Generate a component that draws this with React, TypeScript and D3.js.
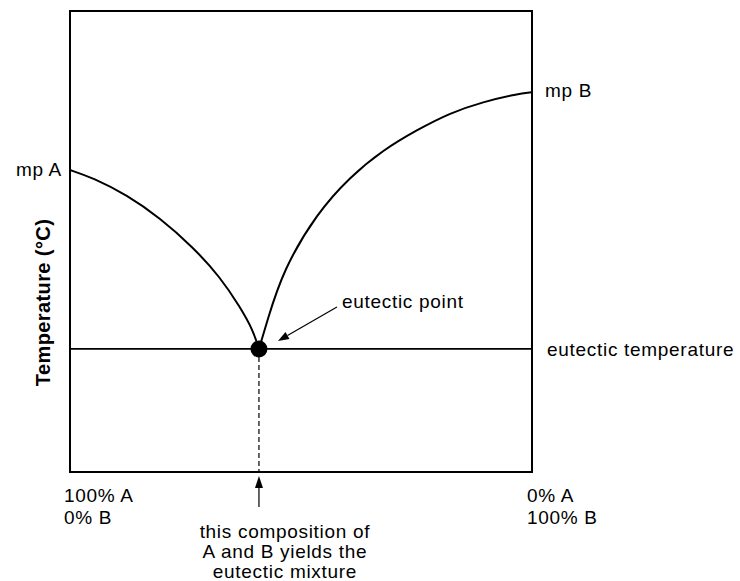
import React from 'react';
import * as d3 from 'd3';

// composition in % B (0 = pure A, 100 = pure B), temperature in relative units
const liquidusA: [number, number][] = [
  [0, 65.5], [5.0, 63.8], [12.3, 60.1], [19.5, 55.1], [26.6, 48.8],
  [32.5, 42.3], [36.8, 35.8], [39.6, 30.8], [40.9, 26.7],
];
const liquidusB: [number, number][] = [
  [40.9, 26.7], [42.6, 32.5], [46.1, 43.8], [53.5, 56.2], [60.6, 64.0],
  [67.7, 69.8], [75.1, 74.2], [82.3, 77.9], [89.4, 80.3], [96.8, 82.0], [100, 82.4],
];
const eutectic = { x: 40.9, t: 26.7 };
const meltingLabels = ['mp A', 'mp B'];
const leftTickLines = ['100% A', '0% B'];
const rightTickLines = ['0% A', '100% B'];
const noteLines = ['this composition of', 'A and B yields the', 'eutectic mixture'];

const W = 740;
const H = 581;
const margin = { left: 70, right: 208, top: 11, bottom: 109 };
const FONT = '"Liberation Sans", Arial, Helvetica, sans-serif';

export default function App() {
  const x = d3.scaleLinear().domain([0, 100]).range([margin.left, W - margin.right]);
  const y = d3.scaleLinear().domain([0, 100]).range([H - margin.bottom, margin.top]);

  const line = d3.line<[number, number]>()
    .x((d) => x(d[0]))
    .y((d) => y(d[1]))
    .curve(d3.curveBasis);

  const ex = x(eutectic.x);
  const ey = y(eutectic.t);
  const bottom = y(0);

  // annotation arrow toward the eutectic point
  const tail: [number, number] = [ex + 78, ey - 42];
  const tip: [number, number] = [ex + 19, ey - 8];
  const ang = Math.atan2(tip[1] - tail[1], tip[0] - tail[0]);
  const headLen = 11;
  const headW = 4;
  const hb: [number, number] = [tip[0] - headLen * Math.cos(ang), tip[1] - headLen * Math.sin(ang)];
  const head = [
    tip,
    [hb[0] + headW * Math.sin(ang), hb[1] - headW * Math.cos(ang)],
    [hb[0] - headW * Math.sin(ang), hb[1] + headW * Math.cos(ang)],
  ];

  const upTip = bottom + 4;
  const upTail = bottom + 35;

  return (
    <svg width={W} height={H} style={{ position: 'absolute', left: 0, top: 0, fontFamily: FONT }}>
      <rect x={0} y={0} width={W} height={H} fill="#fff" />
      <path d={line(liquidusA) ?? ''} fill="none" stroke="#000" strokeWidth={2} />
      <path d={line(liquidusB) ?? ''} fill="none" stroke="#000" strokeWidth={2} />
      <line x1={x(0)} x2={x(100)} y1={ey} y2={ey} stroke="#000" strokeWidth={1.6} />
      <line x1={ex} x2={ex} y1={ey} y2={bottom} stroke="#000" strokeWidth={1.2} strokeDasharray="5,3" />
      <circle cx={ex} cy={ey} r={8.5} fill="#000" />
      <rect
        x={x(0)} y={y(100)} width={x(100) - x(0)} height={y(0) - y(100)}
        fill="none" stroke="#000" strokeWidth={2}
      />

      <line x1={tail[0]} y1={tail[1]} x2={hb[0]} y2={hb[1]} stroke="#000" strokeWidth={1.2} />
      <polygon points={head.map((p) => p.join(',')).join(' ')} fill="#000" />

      <line x1={ex} x2={ex} y1={upTail} y2={upTip + 10} stroke="#000" strokeWidth={1.2} />
      <polygon points={`${ex},${upTip} ${ex - 4},${upTip + 12} ${ex + 4},${upTip + 12}`} fill="#000" />

      <g fontSize={19} letterSpacing={0.7} fill="#000">
        <text x={x(0) - 8} y={y(liquidusA[0][1]) + 6} textAnchor="end">{meltingLabels[0]}</text>
        <text x={x(100) + 13} y={y(liquidusB[liquidusB.length - 1][1]) + 5}>{meltingLabels[1]}</text>
        <text x={tail[0] + 5} y={tail[1] + 1}>eutectic point</text>
        <text x={x(100) + 15} y={ey + 7}>eutectic temperature</text>
        {leftTickLines.map((t, i) => (
          <text key={t} x={x(0) - 6} y={bottom + 30 + i * 22}>{t}</text>
        ))}
        {rightTickLines.map((t, i) => (
          <text key={t} x={x(100) - 5} y={bottom + 30 + i * 22}>{t}</text>
        ))}
        {noteLines.map((t, i) => (
          <text key={t} x={ex + 26} y={bottom + 66 + i * 20} textAnchor="middle">{t}</text>
        ))}
      </g>
      <text
        transform={`translate(50,${(y(0) + y(100)) / 2 + 61}) rotate(-90)`}
        textAnchor="middle" fontSize={20} letterSpacing={0.4} fontWeight="bold"
      >
        Temperature (°C)
      </text>
    </svg>
  );
}
